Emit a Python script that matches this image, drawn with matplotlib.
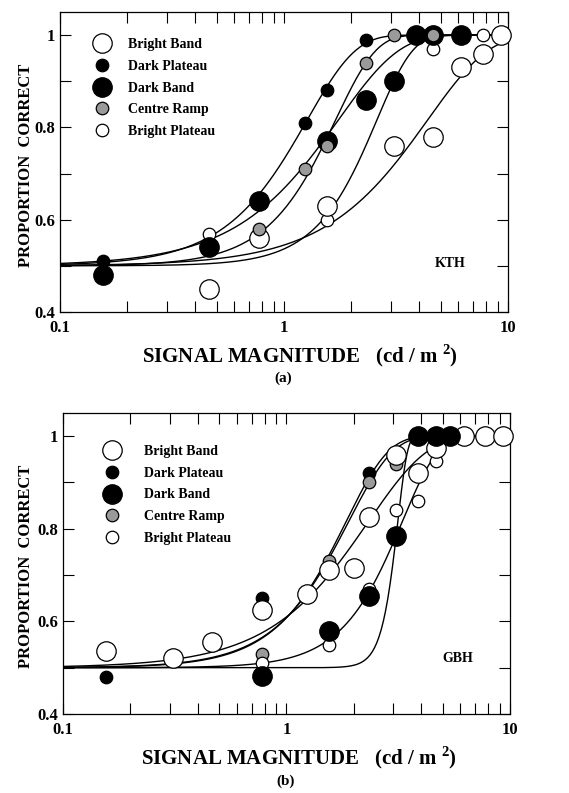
import numpy as np
import matplotlib.pyplot as plt
from matplotlib.ticker import FixedLocator, FixedFormatter, NullFormatter

plt.rcParams['font.family'] = ['Liberation Serif', 'DejaVu Serif']
plt.rcParams['font.weight'] = 'bold'
plt.rcParams['mathtext.fontset'] = 'custom'
plt.rcParams['mathtext.rm'] = 'Liberation Serif:bold'
plt.rcParams['mathtext.bf'] = 'Liberation Serif:bold'

series = ['Bright Band', 'Dark Plateau', 'Dark Band', 'Centre Ramp', 'Bright Plateau']

# ---- panel (a) KTH : measured points ----
a_bright_band_x = [0.465, 0.775, 1.55, 3.1, 4.65, 6.2, 7.75, 9.3]
a_bright_band_y = [0.45, 0.56, 0.63, 0.76, 0.78, 0.93, 0.96, 1.0]
a_dark_plateau_x = [0.155, 0.775, 1.24, 1.55, 2.33]
a_dark_plateau_y = [0.51, 0.64, 0.81, 0.88, 0.99]
a_dark_band_x = [0.155, 0.465, 0.775, 1.55, 2.33, 3.1, 3.87, 4.65, 6.2]
a_dark_band_y = [0.48, 0.54, 0.64, 0.77, 0.86, 0.90, 1.0, 1.0, 1.0]
a_centre_ramp_x = [0.775, 1.24, 1.55, 2.33, 3.1, 4.65]
a_centre_ramp_y = [0.58, 0.71, 0.76, 0.94, 1.0, 1.0]
a_bright_plateau_x = [0.465, 1.55, 4.65, 7.75]
a_bright_plateau_y = [0.57, 0.60, 0.97, 1.0]
# weibull fits (alpha, beta) in the series order
a_alpha = [4.38, 1.27, 1.75, 1.7, 2.6]
a_beta = [1.6, 2.0, 1.6, 2.4, 2.7]

# ---- panel (b) GBH : measured points ----
b_bright_band_x = [0.155, 0.31, 0.465, 0.775, 1.24, 1.55, 2.0, 2.33, 3.1, 3.87, 4.65, 6.2, 7.75, 9.3]
b_bright_band_y = [0.535, 0.52, 0.555, 0.625, 0.66, 0.71, 0.715, 0.825, 0.96, 0.92, 0.975, 1.0, 1.0, 1.0]
b_dark_plateau_x = [0.155, 0.775, 2.33]
b_dark_plateau_y = [0.48, 0.65, 0.92]
b_dark_band_x = [0.775, 1.55, 2.33, 3.1, 3.87, 4.65, 5.4]
b_dark_band_y = [0.483, 0.58, 0.655, 0.785, 1.0, 1.0, 1.0]
b_centre_ramp_x = [0.775, 1.55, 2.33, 3.1]
b_centre_ramp_y = [0.53, 0.73, 0.90, 0.94]
b_bright_plateau_x = [0.775, 1.55, 2.33, 3.1, 3.87, 4.65]
b_bright_plateau_y = [0.51, 0.55, 0.67, 0.84, 0.86, 0.947]
b_alpha = [2.33, 1.85, 3.15, 1.9, 3.3]
b_beta = [1.65, 2.3, 10.0, 2.2, 2.7]

panel_a = {
    'Bright Band': (a_bright_band_x, a_bright_band_y),
    'Dark Plateau': (a_dark_plateau_x, a_dark_plateau_y),
    'Dark Band': (a_dark_band_x, a_dark_band_y),
    'Centre Ramp': (a_centre_ramp_x, a_centre_ramp_y),
    'Bright Plateau': (a_bright_plateau_x, a_bright_plateau_y),
}
panel_b = {
    'Bright Band': (b_bright_band_x, b_bright_band_y),
    'Dark Plateau': (b_dark_plateau_x, b_dark_plateau_y),
    'Dark Band': (b_dark_band_x, b_dark_band_y),
    'Centre Ramp': (b_centre_ramp_x, b_centre_ramp_y),
    'Bright Plateau': (b_bright_plateau_x, b_bright_plateau_y),
}

big, small = 14, 9
marker_style = {
    'Bright Band': dict(ms=big, mfc='white'),
    'Dark Plateau': dict(ms=small, mfc='black'),
    'Dark Band': dict(ms=big, mfc='black'),
    'Centre Ramp': dict(ms=small, mfc='#9a9a9a'),
    'Bright Plateau': dict(ms=small, mfc='white'),
}


def weibull(x, alpha, beta):
    # 2AFC psychometric function, floor at 0.5
    return 1 - 0.5 * np.exp(-(x / alpha) ** beta)


def draw_panel(ax, data, alphas, betas, draw_order, tag, letter, leg_anchor, leg_pad,
               xl_x, letter_x, yl_x):
    xs = np.logspace(-1, 1, 400)
    for al, be in zip(alphas, betas):
        ax.plot(xs, weibull(xs, al, be), color='black', lw=1.0, zorder=2)
    handles = {}
    for i, name in enumerate(draw_order):
        x, y = data[name]
        h, = ax.plot(x, y, 'o', mec='black', mew=0.9, linestyle='none',
                     zorder=3 + i, clip_on=False, **marker_style[name])
        handles[name] = h
    ax.legend([handles[n] for n in series], series, loc='upper left', bbox_to_anchor=leg_anchor,
              frameon=False, fontsize=10, handlelength=1.0, handletextpad=leg_pad,
              labelspacing=0.63, borderpad=0, borderaxespad=0, numpoints=1)

    ax.set_xscale('log')
    ax.set_xlim(0.1, 10)
    ax.set_ylim(0.4, 1.05)
    ax.xaxis.set_major_locator(FixedLocator([0.1, 1, 10]))
    ax.xaxis.set_major_formatter(FixedFormatter(['0.1', '1', '10']))
    minors = [k * 0.1 for k in range(2, 10)] + [k for k in range(2, 10)]
    ax.xaxis.set_minor_locator(FixedLocator(minors))
    ax.xaxis.set_minor_formatter(NullFormatter())
    ax.yaxis.set_major_locator(FixedLocator([0.4, 0.5, 0.6, 0.7, 0.8, 0.9, 1.0]))
    ax.yaxis.set_major_formatter(FixedFormatter(['0.4', '', '0.6', '', '0.8', '', '1']))
    ax.tick_params(which='both', direction='in', top=True, right=True, length=8, width=0.8,
                   labelsize=12)
    ax.tick_params(axis='x', which='both', pad=6)
    ax.tick_params(axis='y', which='both', pad=3.5)
    for sp in ax.spines.values():
        sp.set_linewidth(0.9)

    ax.set_ylabel('PROPORTION  CORRECT', fontsize=12, fontweight='bold')
    ax.yaxis.set_label_coords(yl_x, 0.49)
    ax.text(xl_x, -0.145, r'SIGNAL MAGNITUDE   (cd / m $^{\mathbf{2}}$)', transform=ax.transAxes,
            ha='center', va='center', fontsize=15, fontweight='bold')
    ax.text(letter_x, -0.222, letter, transform=ax.transAxes, ha='center', va='center',
            fontsize=11, fontweight='bold')
    ax.text(tag[1], tag[2], tag[0], transform=ax.transAxes, ha='center', va='center',
            fontsize=10, fontweight='bold')


fig = plt.figure(figsize=(5.69, 7.93), dpi=100)
ax1 = fig.add_axes([0.1054, 0.6066, 0.7873, 0.3783])
ax2 = fig.add_axes([0.1107, 0.0996, 0.7856, 0.3796])

draw_panel(ax1, panel_a, a_alpha, a_beta,
           ['Bright Plateau', 'Bright Band', 'Dark Band', 'Dark Plateau', 'Centre Ramp'],
           ('KTH', 0.87, 0.163), '(a)', (0.078, 0.913), 1.4, 0.536, 0.498, -0.058)
draw_panel(ax2, panel_b, b_alpha, b_beta,
           ['Dark Plateau', 'Centre Ramp', 'Bright Plateau', 'Bright Band', 'Dark Band'],
           ('GBH', 0.884, 0.186), '(b)', (0.094, 0.894), 1.8, 0.528, 0.497, -0.065)

fig.savefig('out.png', dpi=100)
